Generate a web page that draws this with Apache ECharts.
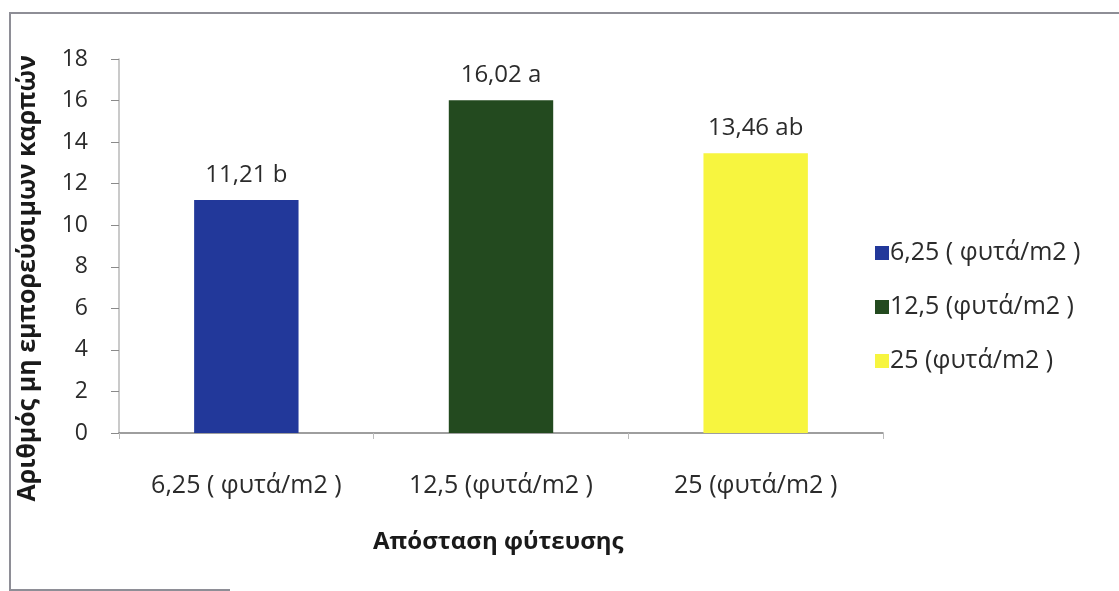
<!DOCTYPE html>
<html>
<head>
<meta charset="utf-8">
<style>
  html, body { margin: 0; padding: 0; background: #ffffff; }
  #chart { width: 1119px; height: 591px; }
</style>
<script src="https://cdn.jsdelivr.net/npm/echarts@6/dist/echarts.min.js"></script>
</head>
<body>
<div id="chart"></div>
<script>
// Planting density categories and mean count of non-marketable fruits
const categories = ['6,25 ( φυτά/m2 )', '12,5 (φυτά/m2 )', '25 (φυτά/m2 )'];
const values = [11.21, 16.02, 13.46];
const letters = ['b', 'a', 'ab'];
const colors = ['#22389a', '#234a1f', '#f7f53f'];
const yTicks = [0, 2, 4, 6, 8, 10, 12, 14, 16, 18];

const FONT = '"Open Sans", "Noto Sans", sans-serif';

const chart = echarts.init(document.getElementById('chart'), null, { renderer: 'canvas' });

// One series per density so each gets its own legend entry; stacked so the bars stay centred
const series = categories.map((name, i) => ({
  name: name,
  type: 'bar',
  stack: 'one',
  barWidth: '41%',
  itemStyle: { color: colors[i] },
  label: {
    show: true,
    position: 'top',
    distance: 13,
    color: '#2b2b2b',
    fontFamily: FONT,
    fontSize: 24,
    formatter: p => p.value == null ? '' : p.value.toFixed(2).replace('.', ',') + ' ' + letters[i]
  },
  data: categories.map((c, j) => (j === i ? values[i] : null))
}));

chart.setOption({
  animation: false,
  backgroundColor: '#ffffff',
  grid: { left: 119, right: 236, top: 59, bottom: 158 },
  legend: {
    orient: 'vertical',
    left: 870,
    top: 235,
    itemGap: 28,
    itemWidth: 14,
    itemHeight: 14,
    icon: 'rect',
    textStyle: { fontFamily: FONT, fontSize: 25, lineHeight: 26, color: '#2b2b2b', padding: [0, 0, 0, -4] },
    data: categories
  },
  xAxis: {
    type: 'category',
    data: categories,
    axisLine: { lineStyle: { color: '#7f7f7f', width: 1.5 } },
    axisTick: { show: true, length: 6, lineStyle: { color: '#bbbbbb' } },
    axisLabel: { fontFamily: FONT, fontSize: 25, color: '#2b2b2b', margin: 40 },
    splitLine: { show: false }
  },
  yAxis: {
    type: 'value',
    min: 0,
    max: 18,
    interval: 2,
    axisLine: { show: true, lineStyle: { color: '#b8b8b8', width: 1.5 } },
    axisTick: { show: true, length: 8, lineStyle: { color: '#8a8a8a' } },
    axisLabel: {
      fontFamily: FONT, fontSize: 23, color: '#2b2b2b', margin: 31,
      formatter: v => (yTicks.includes(v) ? String(v) : '')
    },
    splitLine: { show: false }
  },
  graphic: [
    // outer frame: top and left edges, short piece of bottom edge
    {
      type: 'polyline',
      shape: { points: [[10, 591], [10, 13], [1119, 13]] },
      style: { fill: 'none', stroke: '#8e8e96', lineWidth: 2 }
    },
    {
      type: 'line',
      shape: { x1: 10, y1: 590, x2: 230, y2: 590 },
      style: { stroke: '#8e8e96', lineWidth: 2 }
    },
    {
      type: 'text',
      left: 15, top: 55,
      rotation: Math.PI / 2,
      style: {
        text: 'Αριθμός μη εμπορεύσιμων καρπών',
        fontFamily: FONT, fontSize: 25, fontWeight: 'bold', fill: '#1a1a1a'
      }
    },
    {
      type: 'text',
      left: 373, top: 530,
      style: {
        text: 'Απόσταση φύτευσης',
        fontFamily: FONT, fontSize: 24, fontWeight: 'bold', fill: '#1a1a1a'
      }
    }
  ],
  series: series
});
</script>
</body>
</html>
